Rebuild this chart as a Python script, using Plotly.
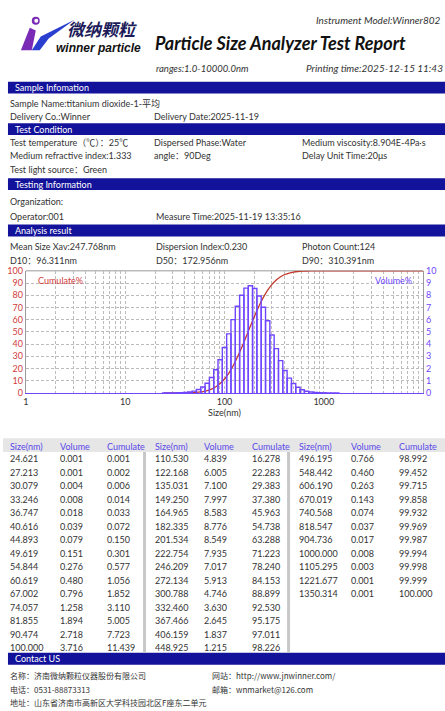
import plotly.graph_objects as go
import math

W, H = 445, 711

# ---------------- data ----------------
sizes = [24.621, 27.213, 30.079, 33.246, 36.747, 40.616, 44.893, 49.619, 54.844, 60.619,
         67.002, 74.057, 81.855, 90.474, 100.000,
         110.530, 122.168, 135.031, 149.250, 164.965, 182.335, 201.534, 222.754, 246.209, 272.134,
         300.788, 332.460, 367.466, 406.159, 448.925,
         496.195, 548.442, 606.190, 670.019, 740.568, 818.547, 904.736, 1000.000, 1105.295, 1221.677,
         1350.314]
volumes = [0.001, 0.001, 0.004, 0.008, 0.018, 0.039, 0.079, 0.151, 0.276, 0.480,
           0.796, 1.258, 1.894, 2.718, 3.716,
           4.839, 6.005, 7.100, 7.997, 8.583, 8.776, 8.549, 7.935, 7.017, 5.913,
           4.746, 3.630, 2.645, 1.837, 1.215,
           0.766, 0.460, 0.263, 0.143, 0.074, 0.037, 0.017, 0.008, 0.003, 0.001,
           0.001]
cumulates = [0.001, 0.002, 0.006, 0.014, 0.033, 0.072, 0.150, 0.301, 0.577, 1.056,
             1.852, 3.110, 5.005, 7.723, 11.439,
             16.278, 22.283, 29.383, 37.380, 45.963, 54.738, 63.288, 71.223, 78.240, 84.153,
             88.899, 92.530, 95.175, 97.011, 98.226,
             98.992, 99.452, 99.715, 99.858, 99.932, 99.969, 99.987, 99.994, 99.998, 99.999,
             100.000]
range_min, range_max = 1.0, 10000.0
decade_labels = ["1", "10", "100", "1000"]

# ---------------- styles ----------------
NAVY = "#12129a"
PURPLE = "#7046ff"
RED = "#d03c3c"
CURVE = "#c0392b"
TXT = "#333333"
FONT = "Lato, Noto Sans CJK SC, sans-serif"
CJK = "Noto Sans CJK SC, sans-serif"


def px(x):
    return x / W


def py(y):
    return 1 - y / H


annotations = []
shapes = []


def txt(x, y, s, size=9, color=TXT, anchor="left", family=FONT, **kw):
    annotations.append(dict(x=px(x), y=py(y), xref="paper", yref="paper", text=s,
                            showarrow=False, xanchor=anchor, yanchor="middle",
                            font=dict(size=size, color=color, family=family), **kw))


def rect(x0, y0, x1, y1, color):
    shapes.append(dict(type="rect", xref="paper", yref="paper", x0=px(x0), x1=px(x1),
                       y0=py(y1), y1=py(y0), fillcolor=color, line=dict(width=0), layer="below"))


def path(points, color):
    d = "M " + " L ".join(f"{px(a):.5f},{py(b):.5f}" for a, b in points) + " Z"
    shapes.append(dict(type="path", xref="paper", yref="paper", path=d,
                       fillcolor=color, line=dict(width=0)))


fig = go.Figure()

# ---------- histogram bars (outlined) ----------
edges = []
for i in range(len(sizes) + 1):
    if i == 0:
        r = sizes[1] / sizes[0]
        edges.append(sizes[0] / math.sqrt(r))
    elif i == len(sizes):
        r = sizes[-1] / sizes[-2]
        edges.append(sizes[-1] * math.sqrt(r))
    else:
        edges.append(math.sqrt(sizes[i - 1] * sizes[i]))
bx, by = [], []
for i, v in enumerate(volumes):
    l, r = edges[i], edges[i + 1]
    bx += [l, l, r, r, None]
    by += [0, v, v, 0, None]
fig.add_trace(go.Scatter(x=bx, y=by, mode="lines", yaxis="y2",
                         line=dict(color=PURPLE, width=1.4), hoverinfo="skip",
                         showlegend=False))

# ---------- cumulative curve ----------
cx = sizes + [range_max]
cy = cumulates + [cumulates[-1]]
fig.add_trace(go.Scatter(x=cx, y=cy, mode="lines", line=dict(color=CURVE, width=1.3, shape="spline"),
                         cliponaxis=False, showlegend=False, hoverinfo="skip"))

# log tick values (grid at every 1..9 x 10^k)
tickvals, ticktext = [], []
for k in range(4):
    for m in range(1, 10):
        tickvals.append(m * 10 ** k)
        ticktext.append(decade_labels[k] if m == 1 else "")
tickvals.append(range_max)
ticktext.append("")

GRID = dict(showgrid=True, gridcolor="#bcbcbc", griddash="3px,2px", gridwidth=1)
PL, PR, PT, PB = 23, 423, 269, 393
fig.update_layout(
    width=W, height=H, margin=dict(l=0, r=0, t=0, b=0),
    paper_bgcolor="white", plot_bgcolor="white",
    xaxis=dict(type="log", range=[math.log10(range_min), math.log10(range_max)],
               domain=[px(PL), px(PR)], tickvals=tickvals, ticktext=ticktext, **GRID,
               showline=True, linecolor=PURPLE, linewidth=1.2, ticks="", zeroline=False,
               tickfont=dict(size=9, color=TXT, family=FONT),
               title=dict(text="Size(nm)", font=dict(size=9, color=TXT, family=FONT), standoff=2)),
    yaxis=dict(range=[0, 100], dtick=10, domain=[py(PB), py(PT)], **GRID,
               showline=True, linecolor="#999999", linewidth=1, ticks="", zeroline=False,
               tickfont=dict(size=9, color=RED, family=FONT)),
    yaxis2=dict(range=[0, 10], dtick=1, overlaying="y", side="right", showgrid=False,
                showline=True, linecolor="#999999", linewidth=1, ticks="", zeroline=False,
                tickfont=dict(size=9, color=PURPLE, family=FONT)),
    showlegend=False,
)
shapes.append(dict(type="line", xref="paper", yref="paper", x0=px(PL), x1=px(PR),
                   y0=py(PT), y1=py(PT), line=dict(color="#999999", width=1), layer="below"))
txt(33, 279, "Cumulate%", color=RED)
txt(414, 279, "Volume%", color=PURPLE, anchor="right")

# ---------- logo ----------
path([(18, 45), (27, 22), (33, 25), (29, 45)], "#7a2bb5")
path([(29, 45), (38, 31), (72, 14), (46, 33), (37, 45)], "#2a3fd0")
shapes.append(dict(type="circle", xref="paper", yref="paper", x0=px(29), x1=px(37),
                   y0=py(19), y1=py(11), fillcolor="#7a2bb5", line=dict(width=0)))
shapes.append(dict(type="circle", xref="paper", yref="paper", x0=px(31.5), x1=px(35.5),
                   y0=py(17), y1=py(13), fillcolor="white", line=dict(width=0)))
txt(62, 23, "<b><i>微纳颗粒</i></b>", size=17, color="#1c1c5a", family=CJK)
txt(51, 43, "<b><i>winner particle</i></b>", size=12, color="#111111",
    family="Liberation Sans, Arial, sans-serif")

# ---------- header ----------
txt(313, 14, "<i>Instrument Model:Winner802</i>", size=10)
txt(151, 38, "<b><i>Particle Size Analyzer Test Report</i></b>", size=18, color="#111111")
txt(152, 63, "<i>ranges:1.0-10000.0nm</i>", size=9.5)
txt(303, 63, "<i>Printing time:2025-12-15 11:43</i>", size=10)

# ---------- section bars ----------
for (y0, y1, label) in [(77, 89, "Sample Infomation"), (119, 131, "Test Condition"),
                        (175, 187, "Testing Information"), (222, 234, "Analysis result"),
                        (657, 669, "Contact US")]:
    rect(5, y0, W, y1, NAVY)
    txt(10, (y0 + y1) / 2, label, color="white")

# ---------- info rows ----------
txt(5, 99, "Sample Name:titanium dioxide-1-平均")
txt(5, 112, "Delivery Co.:Winner")
txt(150, 112, "Delivery Date:2025-11-19")
txt(5, 139, "Test temperature（℃）：25℃")
txt(150, 139, "Dispersed Phase:Water")
txt(299, 139, "Medium viscosity:8.904E-4Pa·s")
txt(5, 152, "Medium refractive index:1.333")
txt(150, 152, "angle：90Deg")
txt(299, 152, "Delay Unit Time:20μs")
txt(5, 166, "Test light source：Green")
txt(5, 199, "Organization:")
txt(5, 214, "Operator:001")
txt(152, 214, "Measure Time:2025-11-19 13:35:16")
txt(5, 244, "Mean Size Xav:247.768nm")
txt(152, 244, "Dispersion Index:0.230")
txt(299, 244, "Photon Count:124")
txt(5, 258, "D10：96.311nm")
txt(152, 258, "D50：172.956nm")
txt(299, 258, "D90：310.391nm")

# ---------- data table ----------
rect(0, 439, W, 453, "#e6e6e6")
for sx in (141, 286):
    rect(sx, 453, sx + 3, 657, "#c8c8c8")
col_x = [(5, 55, 103), (151, 200, 249), (296, 348, 397)]
rows_per_col = 15
for g, (x1, x2, x3) in enumerate(col_x):
    txt(x1, 447, "Size(nm)", color="#5a48e8")
    txt(x2, 447, "Volume", color="#5a48e8")
    txt(x3, 447, "Cumulate", color="#5a48e8")
    for r in range(rows_per_col):
        i = g * rows_per_col + r
        if i >= len(sizes):
            break
        yy = 460 + r * 13.7
        txt(x1, yy, f"{sizes[i]:.3f}")
        txt(x2, yy, f"{volumes[i]:.3f}")
        txt(x3, yy, f"{cumulates[i]:.3f}")

# ---------- contact ----------
txt(5, 680, "名称：济南微纳颗粒仪器股份有限公司", size=8, family=CJK)
txt(208, 680, "网站：http://www.jnwinner.com/", size=8, family=CJK)
txt(5, 694, "电话：0531-88873313", size=8, family=CJK)
txt(208, 694, "邮箱：wnmarket@126.com", size=8, family=CJK)
txt(5, 707, "地址：山东省济南市高新区大学科技园北区F座东二单元", size=8, family=CJK)

fig.update_layout(annotations=annotations, shapes=shapes)
fig.write_html("out.html", config={"displayModeBar": False},
               post_script="document.body.style.margin='0';document.body.style.overflow='hidden';")
